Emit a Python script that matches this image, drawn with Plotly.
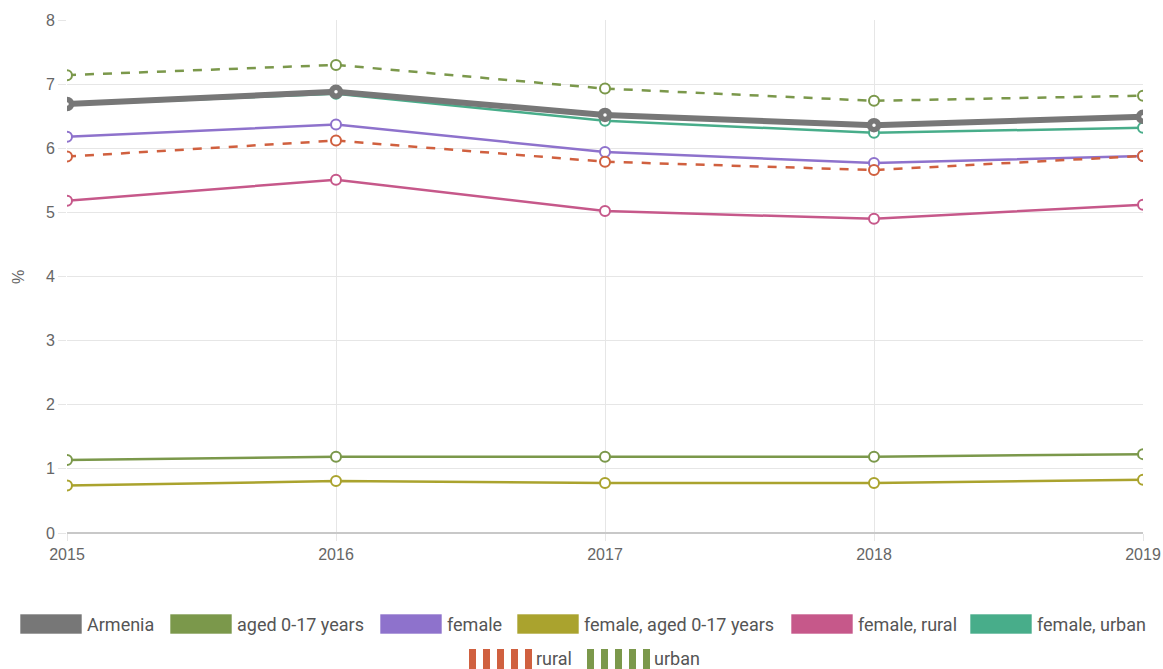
import plotly.graph_objects as go

years = [2015, 2016, 2017, 2018, 2019]
armenia = [6.69, 6.88, 6.52, 6.36, 6.49]
aged_0_17 = [1.14, 1.19, 1.19, 1.19, 1.23]
female = [6.18, 6.37, 5.94, 5.77, 5.88]
female_aged_0_17 = [0.74, 0.81, 0.78, 0.78, 0.83]
female_rural = [5.18, 5.51, 5.02, 4.90, 5.12]
female_urban = [6.68, 6.85, 6.43, 6.24, 6.32]
rural = [5.87, 6.12, 5.79, 5.66, 5.88]
urban = [7.14, 7.30, 6.93, 6.74, 6.82]

series = [
    ("aged 0-17 years", aged_0_17, "#7b984b", "solid", 2.5),
    ("female", female, "#8e72cc", "solid", 2.5),
    ("female, aged 0-17 years", female_aged_0_17, "#aaa32e", "solid", 2.5),
    ("female, rural", female_rural, "#c6588a", "solid", 2.5),
    ("female, urban", female_urban, "#48ad8a", "solid", 2.5),
    ("rural", rural, "#d0603f", "dash", 2.5),
    ("urban", urban, "#7b984b", "dash", 2.5),
    ("Armenia", armenia, "#777777", "solid", 6),
]

fig = go.Figure()
for name, vals, color, dash, w in series:
    big = name == "Armenia"
    fig.add_trace(go.Scatter(
        x=years, y=vals, name=name, mode="lines+markers",
        line=dict(color=color, width=w, dash=dash),
        marker=dict(symbol="circle", size=9 if big else 10, color="white",
                    line=dict(color=color, width=5.5 if big else 2)),
        showlegend=False,
    ))

# custom legend (wide swatches), positions given in page pixels
PX0, PX1, PY0, PY1 = 67, 1143, 533, 20
def px(x):
    return (x - PX0) / (PX1 - PX0)
def py(y):
    return (PY0 - y) / (PY0 - PY1)

legend_items = [
    ("Armenia", "#777777", "solid", 20, 624),
    ("aged 0-17 years", "#7b984b", "solid", 170, 624),
    ("female", "#8e72cc", "solid", 380, 624),
    ("female, aged 0-17 years", "#aaa32e", "solid", 517, 624),
    ("female, rural", "#c6588a", "solid", 791, 624),
    ("female, urban", "#48ad8a", "solid", 970, 624),
    ("rural", "#d0603f", "dash", 469, 659),
    ("urban", "#7b984b", "dash", 587, 659),
]
shapes = []
annotations = []
for name, color, style, x0, yc in legend_items:
    if style == "solid":
        shapes.append(dict(type="rect", xref="paper", yref="paper",
                           x0=px(x0), x1=px(x0 + 62), y0=py(yc + 10), y1=py(yc - 10),
                           fillcolor=color, line=dict(color="rgba(255,255,255,0.6)", width=1)))
    else:
        for k in range(5):
            sx = x0 + k * 14
            shapes.append(dict(type="rect", xref="paper", yref="paper",
                               x0=px(sx), x1=px(sx + 7), y0=py(yc + 10), y1=py(yc - 10),
                               fillcolor=color, line=dict(width=0)))
    annotations.append(dict(xref="paper", yref="paper", x=px(x0 + 65), y=py(yc),
                            text=name, showarrow=False, xanchor="left", yanchor="middle",
                            font=dict(family="Roboto", size=18, color="#555555")))

tickfont = dict(family="Liberation Sans, Arial", size=16, color="#666666")
# y-axis title
annotations.append(dict(xref="paper", yref="paper", x=px(18), y=py(277), text="%",
                        showarrow=False, textangle=-90, xanchor="center", yanchor="middle",
                        font=tickfont))

fig.update_layout(
    width=1163, height=669,
    margin=dict(l=67, r=20, t=20, b=136),
    paper_bgcolor="white", plot_bgcolor="white",
    font=dict(family="Liberation Sans, Arial", size=16, color="#666666"),
    shapes=shapes, annotations=annotations, showlegend=False,
    xaxis=dict(range=[2015, 2019], tickvals=years, ticktext=[str(y) for y in years],
               showgrid=True, gridcolor="#e6e6e6", gridwidth=1, zeroline=False,
               showline=False, ticks="outside", ticklen=7, tickcolor="#e6e6e6",
               tickfont=tickfont, automargin=False),
    yaxis=dict(range=[0, 8], dtick=1, showgrid=True, gridcolor="#e6e6e6", gridwidth=1,
               zeroline=True, zerolinecolor="#c8c8c8", zerolinewidth=1.5,
               showline=False, ticks="outside", ticklen=8, tickcolor="#e6e6e6",
               tickfont=tickfont, automargin=False),
)

fig.write_html("out.html", config={"displayModeBar": False},
               post_script="document.body.style.margin='0';document.body.style.overflow='hidden';")
